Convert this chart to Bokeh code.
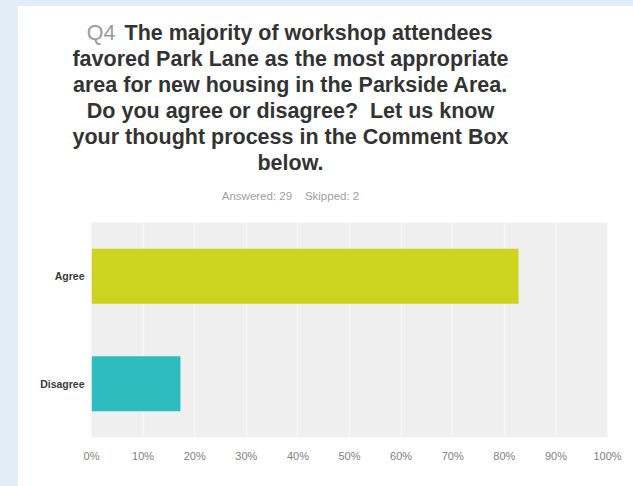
from bokeh.plotting import figure
from bokeh.models import Range1d, FactorRange, FixedTicker, ColumnDataSource
from bokeh.core.properties import value
from bokeh.layouts import column
from bokeh.embed import file_html
from bokeh.resources import INLINE

# ---- data ----
categories = ["Agree", "Disagree"]
percentages = [82.76, 17.24]
bar_colors = ["#cdd31f", "#2fbcbe"]
tick_values = [0, 10, 20, 30, 40, 50, 60, 70, 80, 90, 100]
tick_labels = ["0%", "10%", "20%", "30%", "40%", "50%", "60%", "70%", "80%", "90%", "100%"]
question_no = "Q4"
title_lines = [
    "The majority of workshop attendees",
    "favored Park Lane as the most appropriate",
    "area for new housing in the Parkside Area.",
    "Do you agree or disagree?\u00a0\u00a0Let us know",
    "your thought process in the Comment Box",
    "below.",
]
answered_text = "Answered: 29\u00a0\u00a0\u00a0\u00a0Skipped: 2"

W = 615
OX, OY = 18, 6  # offset of the white panel in the page
HEAD_H = 216
MAIN_H = 264
BL, BR, BB = 73, 26, 49
FONT = value("Liberation Sans")

# ---- header (title) ----
head = figure(
    width=W, height=HEAD_H, x_range=Range1d(0, W), y_range=Range1d(HEAD_H, 0),
    x_axis_type=None, y_axis_type=None, output_backend="svg", toolbar_location=None,
    min_border=0,
)
head.frame_align = False
head.border_fill_color = "white"
head.background_fill_color = "white"
head.outline_line_color = None
head.grid.visible = False

def hx(x_page):
    return x_page - OX

def hy(y_page):
    return y_page - OY

CX = 290
TS = "21.5px"
line_ys = [32, 58, 84, 110, 136, 162]
head.text(x=[hx(121)], y=[hy(line_ys[0])], text=[question_no + " "], text_align="right",
          text_baseline="middle", text_font=FONT, text_font_size=TS, text_color="#9a9a9a")
head.text(x=[hx(124)], y=[hy(line_ys[0])], text=[title_lines[0]], text_align="left",
          text_baseline="middle", text_font=FONT, text_font_size=TS, text_color="#333333",
          text_font_style="bold")
head.text(x=[hx(CX)] * 5, y=[hy(y) for y in line_ys[1:]], text=title_lines[1:],
          text_align="center", text_baseline="middle", text_font=FONT, text_font_size=TS,
          text_color="#333333", text_font_style="bold")
head.text(x=[hx(CX)], y=[hy(195)], text=[answered_text], text_align="center",
          text_baseline="middle", text_font=FONT, text_font_size="11.5px", text_color="#a0a0a0")

# ---- main bar chart ----
p = figure(
    width=W, height=MAIN_H,
    y_range=FactorRange(factors=list(reversed(categories)), range_padding=0),
    x_range=Range1d(0, 100),
    output_backend="svg", toolbar_location=None,
    min_border_left=BL, min_border_right=BR, min_border_top=0, min_border_bottom=BB,
)
p.frame_align = False
p.border_fill_color = "white"
p.background_fill_color = "#efefef"
p.outline_line_color = None

src = ColumnDataSource(dict(cat=categories, val=percentages, color=bar_colors))
p.hbar(y="cat", right="val", left=0, height=0.51, color="color", line_color=None, source=src)

p.xaxis.ticker = FixedTicker(ticks=tick_values)
p.xaxis.major_label_overrides = {v: l for v, l in zip(tick_values, tick_labels)}
for ax in (p.xaxis[0], p.yaxis[0]):
    ax.axis_line_color = None
    ax.major_tick_line_color = None
    ax.minor_tick_line_color = None
    ax.major_tick_out = 0
    ax.major_tick_in = 0
p.xaxis.major_label_text_font = "Liberation Sans"
p.xaxis.major_label_text_font_size = "11px"
p.xaxis.major_label_text_color = "#808080"
p.xaxis.major_label_standoff = 12
p.yaxis.major_label_text_font = "Liberation Sans"
p.yaxis.major_label_text_font_size = "10.5px"
p.yaxis.major_label_text_color = "#3a3a3a"
p.yaxis.major_label_text_font_style = "bold"
p.yaxis.major_label_standoff = 7

p.xgrid.ticker = FixedTicker(ticks=tick_values)
p.xgrid.grid_line_color = "#f7f7f7"
p.xgrid.grid_line_width = 1.5
p.ygrid.grid_line_color = None

root = column(head, p, width=633, height=486, spacing=0,
              styles={"background-color": "white",
                      "border-left": f"{OX}px solid #e3edf7",
                      "border-top": f"{OY}px solid #e3edf7",
                      "box-sizing": "border-box"})
open("out.html", "w").write(file_html(root, INLINE))
